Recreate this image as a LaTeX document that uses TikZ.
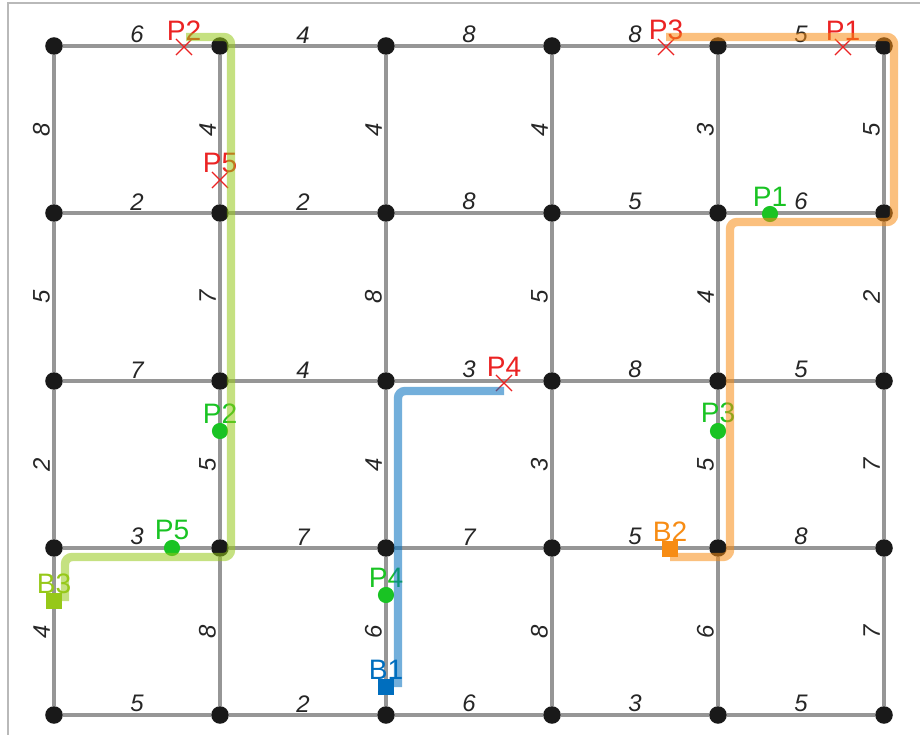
\documentclass[tikz,border=0pt]{standalone}
\usepackage{fontspec}
\setmainfont{Liberation Sans}
\usetikzlibrary{calc,positioning,shapes.misc}

\definecolor{roadgray}{RGB}{150,150,150}
\definecolor{framegray}{RGB}{185,185,185}
\definecolor{dotblack}{RGB}{25,25,25}
\definecolor{pickred}{RGB}{235,35,35}
\definecolor{dropgreen}{RGB}{25,195,35}
\definecolor{busblue}{RGB}{0,110,190}
\definecolor{busorange}{RGB}{247,140,20}
\definecolor{buslime}{RGB}{150,200,25}

\tikzset{
  vertex/.style={circle, fill=dotblack, inner sep=0pt, minimum size=12.5pt},
  road/.style={draw=roadgray, line width=2.6pt},
  weight/.style={font=\fontsize{17}{17}\selectfont\itshape, text=black!85, inner sep=0pt, anchor=south},
  pickup/.style={cross out, draw=pickred, line width=0.9pt, inner sep=0pt, minimum size=10.5pt},
  dropoff/.style={circle, fill=dropgreen, inner sep=0pt, minimum size=11.5pt},
  depot/.style={rectangle, fill=#1, inner sep=0pt, minimum size=11.5pt},
  tag/.style={font=\fontsize{20}{20}\selectfont, inner sep=0pt, text=#1},
  route/.style={draw=#1, line width=6pt, opacity=0.55, rounded corners=5pt}
}

\begin{document}
\begin{tikzpicture}[x=0.025cm,y=-0.025cm]
\useasboundingbox (0,0) rectangle (920,735);
\draw[framegray, line width=1pt] (8,735) -- (8,3) -- (920,3);

\foreach \x [count=\colA] in {54,220,386,552,718,884}
  \foreach \y [count=\rowA] in {46,213,381,548,715}
    \node[vertex] (n-\colA-\rowA) at (\x,\y) {};

\foreach \w [count=\i from 0] in {6,4,8,8,5,2,2,8,5,6,7,4,3,8,5,3,7,7,5,8,5,2,6,3,5}{
  \pgfmathtruncatemacro{\colA}{mod(\i,5)+1}
  \pgfmathtruncatemacro{\colB}{\colA+1}
  \pgfmathtruncatemacro{\rowA}{int(\i/5)+1}
  \draw[road] (n-\colA-\rowA) -- node[weight, outer sep=2pt] {\w} (n-\colB-\rowA);
}
\foreach \w [count=\i from 0] in {8,4,4,4,3,5,5,7,8,5,4,2,2,5,4,3,5,7,4,8,6,8,6,7}{
  \pgfmathtruncatemacro{\colA}{mod(\i,6)+1}
  \pgfmathtruncatemacro{\rowA}{int(\i/6)+1}
  \pgfmathtruncatemacro{\rowB}{\rowA+1}
  \draw[road] (n-\colA-\rowA) -- node[weight, rotate=90, outer sep=3pt] {\w} (n-\colA-\rowB);
}

\node[pickup] (x1) at (843,47) {};
\node[pickup] (x2) at (184,47) {};
\node[pickup] (x3) at (666,47) {};
\node[pickup] (x4) at (504,383) {};
\node[pickup] (x5) at (220,180) {};
\node[dropoff] (g1) at (770,214) {};
\node[dropoff] (g2) at (220,431) {};
\node[dropoff] (g3) at (718,431) {};
\node[dropoff] (g4) at (386,595) {};
\node[dropoff] (g5) at (172,548) {};
\node[depot=busblue] (b1) at (386,687) {};
\node[depot=busorange] (b2) at (670,549) {};
\node[depot=buslime] (b3) at (54,601) {};

\node[tag=pickred, above=-1pt of x1] (x1-t) {P1};
\node[tag=pickred, above=-1pt of x2] (x2-t) {P2};
\node[tag=pickred, above=-1pt of x3] (x3-t) {P3};
\node[tag=pickred, above=-1pt of x4] (x4-t) {P4};
\node[tag=pickred, above=-1pt of x5] (x5-t) {P5};
\node[tag=dropgreen, above=-0.5pt of g1] (g1-t) {P1};
\node[tag=dropgreen, above=-0.5pt of g2] (g2-t) {P2};
\node[tag=dropgreen, above=-0.5pt of g3] (g3-t) {P3};
\node[tag=dropgreen, above=-0.5pt of g4] (g4-t) {P4};
\node[tag=dropgreen, above=-0.5pt of g5] (g5-t) {P5};
\node[tag=busblue, above=-1pt of b1] (b1-t) {B1};
\node[tag=busorange, above=-1pt of b2] (b2-t) {B2};
\node[tag=buslime, above=-1pt of b3] (b3-t) {B3};

\draw[route=busblue] ($(b1.center)+(12,0)$) -- ($(n-3-3.center)+(12,10)$) -- ($(x4.center)+(0,8)$);
\draw[route=busorange] ($(b2.center)+(0,8)$) -- ($(n-5-4.center)+(12,9)$) -- ($(n-5-2.center)+(12,9)$)
  -- ($(n-6-2.center)+(10,9)$) -- ($(n-6-1.center)+(10,-9)$) -- ($(x3.center)+(0,-10)$);
\draw[route=buslime] ($(b3.center)+(11,0)$) -- ($(n-1-4.center)+(11,9)$) -- ($(n-2-4.center)+(11,9)$)
  -- ($(n-2-1.center)+(11,-9)$) -- ($(x2.center)+(2,-10)$);
\end{tikzpicture}
\end{document}
